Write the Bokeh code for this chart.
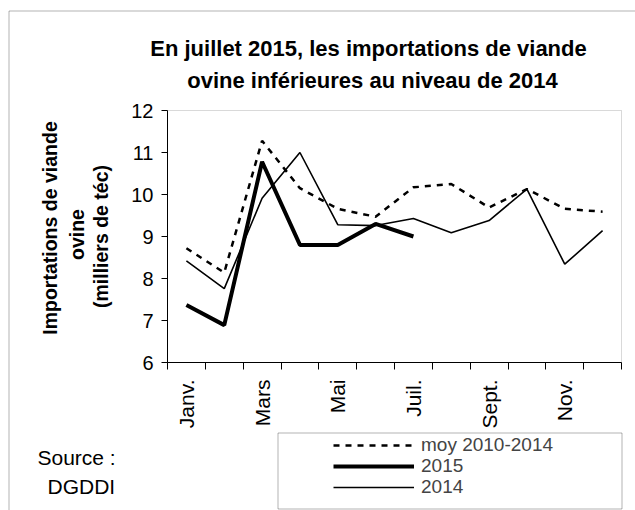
import math
from bokeh.plotting import figure
from bokeh.models import (Range1d, FixedTicker, Legend, LegendItem, Label,
                          BoxAnnotation)
from bokeh.embed import file_html
from bokeh.resources import INLINE

# ---- data ----
mois = [1, 2, 3, 4, 5, 6, 7, 8, 9, 10, 11, 12]
tick_pos = [1, 3, 5, 7, 9, 11]
tick_labels = ["Janv.", "Mars", "Mai", "Juil.", "Sept.", "Nov."]
moy_2010_2014 = [8.72, 8.14, 11.28, 10.15, 9.66, 9.47, 10.17, 10.25, 9.69, 10.13, 9.66, 9.59]
mois_2015 = [1, 2, 3, 4, 5, 6, 7]
val_2015 = [7.37, 6.89, 10.78, 8.80, 8.80, 9.30, 9.00]
val_2014 = [8.42, 7.76, 9.91, 11.00, 9.28, 9.26, 9.43, 9.09, 9.38, 10.13, 8.34, 9.14]
y_ticks = [6, 7, 8, 9, 10, 11, 12]
y_min, y_max = 6, 12
x_min, x_max = 0.5, 12.5

title_l1 = "En juillet 2015, les importations de viande"
title_l2 = "ovine inférieures au niveau de 2014"
ylab = ["Importations de viande", "ovine", "(milliers de téc)"]
source_txt = ["Source :", "DGDDI"]
legend_labels = ["moy 2010-2014", "2015", "2014"]

FONT = "Liberation Sans"

# ---- layout (pixels in canvas) ----
W, H = 635, 510
PL, PR, PT, PB = 167, 621, 110, 362   # plot box edges in canvas pixels
sx = (PR - PL) / (x_max - x_min)
sy = (PB - PT) / (y_max - y_min)
x_range = Range1d(x_min - PL / sx, x_max + (W - PR) / sx)
y_range = Range1d(y_min - (H - PB) / sy, y_max + PT / sy)

p = figure(width=W, height=H, output_backend="svg", toolbar_location=None,
           x_range=x_range, y_range=y_range, min_border=0)
p.grid.visible = False
p.outline_line_color = None
p.background_fill_color = "white"
p.border_fill_color = "white"

# plot box (grey top/right edges)
p.add_layout(BoxAnnotation(left=x_min, right=x_max, bottom=y_min, top=y_max,
                           fill_alpha=0, line_color="#808080", line_width=1,
                           level="underlay"))

r_moy = p.line(mois, moy_2010_2014, line_color="black", line_width=2.5, line_dash="6 6")
r_2014 = p.line(mois, val_2014, line_color="black", line_width=1.6)
r_2015 = p.line(mois_2015, val_2015, line_color="black", line_width=4)

# axes
xa = p.xaxis[0]
xa.fixed_location = y_min
xa.bounds = (x_min, x_max)
xa.ticker = FixedTicker(ticks=tick_pos, minor_ticks=[m - 0.5 for m in mois] + [x_max])
xa.major_label_overrides = {t: l for t, l in zip(tick_pos, tick_labels)}
xa.major_label_orientation = math.pi / 2
xa.major_tick_in = 0
xa.major_tick_out = 0
xa.minor_tick_in = 0
xa.minor_tick_out = 7
xa.minor_tick_line_color = "black"
xa.axis_line_color = "black"
xa.major_label_text_font = FONT
xa.major_label_text_font_size = "21px"
xa.major_label_text_color = "black"
xa.major_label_standoff = 10

ya = p.yaxis[0]
ya.fixed_location = x_min
ya.bounds = (y_min, y_max)
ya.ticker = FixedTicker(ticks=y_ticks, minor_ticks=[])
ya.major_tick_in = 0
ya.major_tick_out = 6
ya.minor_tick_line_color = None
ya.axis_line_color = "black"
ya.major_label_text_font = FONT
ya.major_label_text_font_size = "20px"
ya.major_label_text_color = "black"
ya.major_label_standoff = 8

def lab(txt, x, y, size, bold=False, align="left", angle=0.0):
    p.add_layout(Label(x=x, y=y, x_units="screen", y_units="screen", text=txt,
                       angle=angle, text_font=FONT, text_font_size=size,
                       text_font_style="bold" if bold else "normal",
                       text_align=align, text_baseline="alphabetic",
                       text_color="black"))

# title (baselines)
lab(title_l1, 368, H - 48, "22px", bold=True, align="center")
lab(title_l2, 372, H - 80, "22px", bold=True, align="center")

# y axis label (three rotated lines)
lab(ylab[0], 49.3, H - 227.5, "19.5px", bold=True, align="center", angle=math.pi / 2)
lab(ylab[1], 76.7, H - 234, "19.5px", bold=True, align="center", angle=math.pi / 2)
lab(ylab[2], 100, H - 236, "19.5px", bold=True, align="center", angle=math.pi / 2)

# source
lab(source_txt[0], 37, H - 457, "21px")
lab(source_txt[1], 47, H - 485.7, "21px")

# outer border and legend frame
p.add_layout(BoxAnnotation(left=8.5, right=W + 50, top=H - 10.5, bottom=-50,
                           left_units="screen", right_units="screen",
                           top_units="screen", bottom_units="screen",
                           fill_alpha=0, line_color="black", line_width=1))
p.add_layout(BoxAnnotation(left=277.5, right=621.5, top=H - 432.5, bottom=H - 508.5,
                           left_units="screen", right_units="screen",
                           top_units="screen", bottom_units="screen",
                           fill_alpha=0, line_color="black", line_width=1))

# legend entries (one per row so the rows can sit as tightly as in the reference)
for lbl, r, yb in [(legend_labels[0], r_moy, 54.4),
                   (legend_labels[1], r_2015, 33.4),
                   (legend_labels[2], r_2014, 12.4)]:
    lg = Legend(items=[LegendItem(label=lbl, renderers=[r])],
                location=(333, yb), padding=0, margin=0, spacing=0,
                glyph_width=81, glyph_height=16, label_height=16, label_standoff=7,
                label_text_font=FONT, label_text_font_size="19px",
                border_line_alpha=0, background_fill_alpha=0)
    p.add_layout(lg, "center")

open("out.html", "w").write(file_html(p, INLINE))
